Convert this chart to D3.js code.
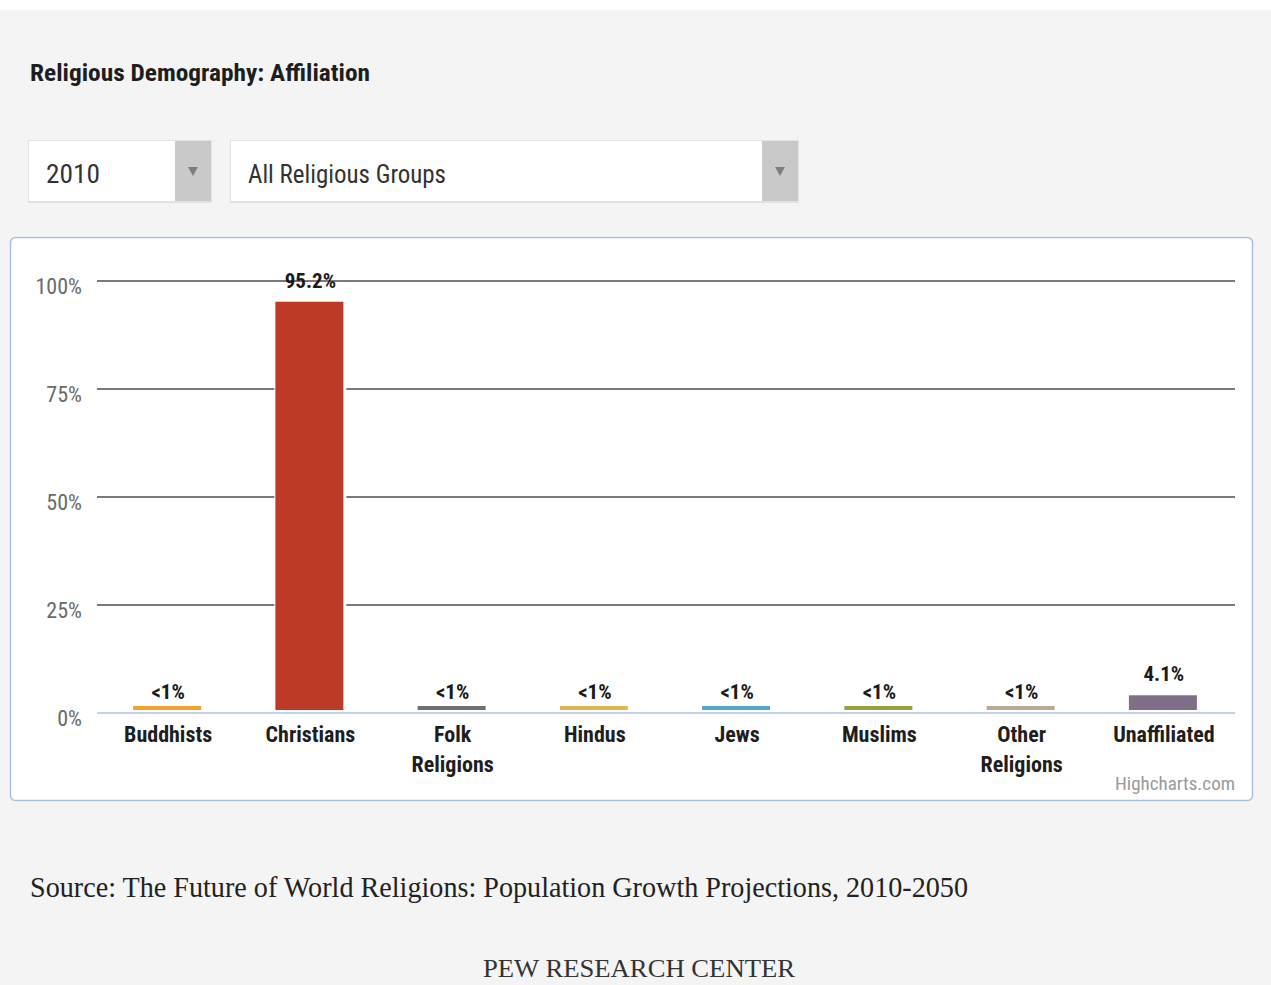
<!DOCTYPE html>
<html>
<head>
<meta charset="utf-8">
<script src="https://cdn.jsdelivr.net/npm/d3@7"></script>
<style>
  html, body { margin: 0; padding: 0; background: #fff; }
  svg { display: block; }
  .sans { font-family: "Liberation Sans Narrow", "Arial Narrow", "Roboto Condensed", "Liberation Sans", sans-serif; }
  .serif { font-family: "Liberation Serif", "DejaVu Serif", serif; }
</style>
</head>
<body>
<svg id="page" width="1271" height="985"></svg>
<script>
// Share of population by religious group, 2010 (percent)
const categories = ["Buddhists", "Christians", "Folk Religions", "Hindus", "Jews", "Muslims", "Other Religions", "Unaffiliated"];
const shares = [0.1, 95.2, 0.1, 0.1, 0.1, 0.1, 0.1, 4.1];
const valueLabels = ["<1%", "95.2%", "<1%", "<1%", "<1%", "<1%", "<1%", "4.1%"];
const categoryLines = [["Buddhists"], ["Christians"], ["Folk", "Religions"], ["Hindus"], ["Jews"], ["Muslims"], ["Other", "Religions"], ["Unaffiliated"]];
const barColors = ["#f0a22e", "#bd3a29", "#6f6f6f", "#e2b552", "#52a8c5", "#95a03e", "#b8aa96", "#7f6e88"];
const yTicks = [0, 25, 50, 75, 100];
const yearOption = "2010";
const groupOption = "All Religious Groups";

const svg = d3.select("#page");

// page background
svg.append("rect").attr("x", 0).attr("y", 10).attr("width", 1271).attr("height", 975).attr("fill", "#f4f4f4");

// heading
svg.append("text").attr("class", "sans")
  .attr("x", 30).attr("y", 81)
  .attr("font-size", 24).attr("font-weight", "bold").attr("fill", "#1e1e1e")
  .attr("textLength", 340).attr("lengthAdjust", "spacingAndGlyphs")
  .text("Religious Demography: Affiliation");

// select boxes
function selectBox(x, w, label, labelW) {
  const g = svg.append("g");
  g.append("rect").attr("x", x - 1).attr("y", 140).attr("width", w + 2).attr("height", 63)
    .attr("fill", "#e2e2e2");
  g.append("rect").attr("x", x).attr("y", 141).attr("width", w).attr("height", 60)
    .attr("fill", "#fff");
  g.append("rect").attr("x", x + w - 36).attr("y", 141).attr("width", 36).attr("height", 60)
    .attr("fill", "#c9c9c9");
  const cx = x + w - 18, cy = 172;
  g.append("path").attr("d", `M${cx - 5},${cy - 5}L${cx + 5},${cy - 5}L${cx},${cy + 4}Z`).attr("fill", "#7d7d7d");
  g.append("text").attr("class", "sans")
    .attr("x", x + 17).attr("y", 183)
    .attr("font-size", 25).attr("fill", "#333")
    .attr("textLength", labelW).attr("lengthAdjust", "spacingAndGlyphs")
    .text(label);
}
selectBox(29, 182, yearOption, 54);
selectBox(231, 567, groupOption, 198);

// chart panel
svg.append("rect").attr("x", 10.5).attr("y", 237.5).attr("width", 1242).attr("height", 563)
  .attr("rx", 5).attr("fill", "#fff").attr("stroke", "#a9c1de").attr("stroke-width", 1.5);

const x = d3.scaleBand().domain(categories).range([97, 1235]).paddingInner(0.522).paddingOuter(0.261);
const y = d3.scaleLinear().domain([0, 100]).range([713, 281]);

// horizontal gridlines
svg.append("g").selectAll("line").data(yTicks.filter(t => t > 0)).join("line")
  .attr("x1", 97).attr("x2", 1235)
  .attr("y1", d => y(d)).attr("y2", d => y(d))
  .attr("stroke", "#7a7a7a").attr("stroke-width", 2);

// y axis labels
svg.append("g").selectAll("text").data(yTicks).join("text").attr("class", "sans")
  .attr("x", 82).attr("y", d => y(d) + 13)
  .attr("text-anchor", "end").attr("font-size", 22).attr("fill", "#6a6a6a")
  .text(d => d + "%");

// bars: a 3px gap above the axis line and a 4px minimum length
const gap = 3, minLen = 4;
const barTop = d => Math.min(y(d), y(0) - gap - minLen);
const bars = svg.append("g").selectAll("g").data(categories).join("g");
bars.append("rect")
  .attr("x", d => x(d) - 2).attr("width", x.bandwidth() + 4)
  .attr("y", (d, i) => barTop(shares[i]) - 1)
  .attr("height", (d, i) => y(0) - gap - barTop(shares[i]) + 1)
  .attr("fill", "#fff");
bars.append("rect")
  .attr("x", d => x(d) - 1).attr("width", x.bandwidth())
  .attr("y", (d, i) => barTop(shares[i]))
  .attr("height", (d, i) => y(0) - gap - barTop(shares[i]))
  .attr("fill", (d, i) => barColors[i]);

// x axis line
svg.append("line").attr("x1", 97).attr("x2", 1235).attr("y1", y(0)).attr("y2", y(0))
  .attr("stroke", "#c3d3e3").attr("stroke-width", 2);

// value labels
svg.append("g").selectAll("text").data(categories).join("text").attr("class", "sans")
  .attr("x", d => x(d) + x.bandwidth() / 2)
  .attr("y", (d, i) => y(shares[i]) - 14)
  .attr("text-anchor", "middle").attr("font-size", 21).attr("font-weight", "bold").attr("fill", "#1a1a1a")
  .text((d, i) => valueLabels[i]);

// category labels
const catG = svg.append("g").selectAll("text").data(categories).join("text").attr("class", "sans")
  .attr("x", d => x(d) + x.bandwidth() / 2)
  .attr("y", 742)
  .attr("text-anchor", "middle").attr("font-size", 22).attr("font-weight", "bold").attr("fill", "#1e1e1e");
catG.each(function (d, i) {
  d3.select(this).selectAll("tspan").data(categoryLines[i]).join("tspan")
    .attr("x", x(d) + x.bandwidth() / 2)
    .attr("dy", (t, j) => j === 0 ? 0 : 30)
    .text(t => t);
});

// credit
svg.append("text").attr("class", "sans")
  .attr("x", 1235).attr("y", 790).attr("text-anchor", "end")
  .attr("font-size", 19).attr("fill", "#9a9a9a")
  .text("Highcharts.com");

// source note
svg.append("text").attr("class", "serif")
  .attr("x", 30).attr("y", 897)
  .attr("font-size", 29).attr("fill", "#222")
  .attr("textLength", 938).attr("lengthAdjust", "spacingAndGlyphs")
  .text("Source: The Future of World Religions: Population Growth Projections, 2010-2050");

svg.append("text").attr("class", "serif")
  .attr("x", 639).attr("y", 977).attr("text-anchor", "middle")
  .attr("font-size", 26).attr("fill", "#333")
  .attr("textLength", 312).attr("lengthAdjust", "spacingAndGlyphs")
  .text("PEW RESEARCH CENTER");
</script>
</body>
</html>
